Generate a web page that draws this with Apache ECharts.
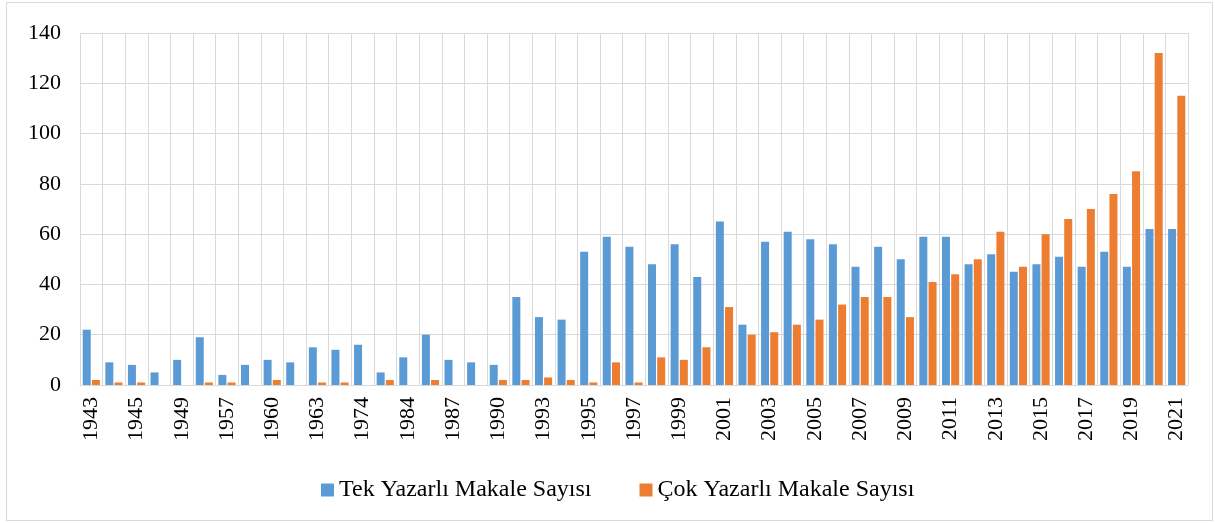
<!DOCTYPE html>
<html>
<head>
<meta charset="UTF-8">
<title>Makale Sayısı</title>
<script type="text/javascript" src="https://cdn.jsdelivr.net/npm/echarts@6/dist/echarts.min.js"></script>
<style type="text/css">
html, body { margin: 0; padding: 0; background: #fff; }
#chart { position: absolute; left: 0; top: 0; width: 1215px; height: 523px; }
#frame { position: absolute; left: 6px; top: 2px; width: 1205px; height: 517px; border: 1px solid #d9d9d9; pointer-events: none; }
</style>
</head>
<body>
	<div id="chart"></div>
	<div id="frame"></div>
<script type="text/javascript">
	var years = ['1943', '1944', '1945', '1946', '1949', '1950', '1957', '1958', '1960', '1961',
		'1963', '1964', '1974', '1975', '1984', '1985', '1987', '1988', '1990', '1991',
		'1993', '1994', '1995', '1996', '1997', '1998', '1999', '2000', '2001', '2002',
		'2003', '2004', '2005', '2006', '2007', '2008', '2009', '2010', '2011', '2012',
		'2013', '2014', '2015', '2016', '2017', '2018', '2019', '2020', '2021'];
	var tekYazarli = [22, 9, 8, 5, 10, 19, 4, 8, 10, 9,
		15, 14, 16, 5, 11, 20, 10, 9, 8, 35,
		27, 26, 53, 59, 55, 48, 56, 43, 65, 24,
		57, 61, 58, 56, 47, 55, 50, 59, 59, 48,
		52, 45, 48, 51, 47, 53, 47, 62, 62];
	var cokYazarli = [2, 1, 1, 0, 0, 1, 1, 0, 2, 0,
		1, 1, 0, 2, 0, 2, 0, 0, 2, 2,
		3, 2, 1, 9, 1, 11, 10, 15, 31, 20,
		21, 24, 26, 32, 35, 35, 27, 41, 44, 50,
		61, 47, 60, 66, 70, 76, 85, 132, 115];
	var yTicks = [0, 20, 40, 60, 80, 100, 120, 140];

	var myChart = echarts.init(document.getElementById("chart"));
	var serif = "'Liberation Serif', 'DejaVu Serif', serif";
	var option = {
		animation : false,
		textStyle : { fontFamily : serif },
		grid : { left : 80, right : 27, top : 33, bottom : 138, containLabel : false },
		legend : {
			top : 473,
			left : 316,
			itemWidth : 13,
			itemHeight : 13,
			itemGap : 48,
			icon : 'rect',
			textStyle : { fontFamily : serif, fontSize : 24, color : '#000' },
			data : ['Tek Yazarlı Makale Sayısı', 'Çok Yazarlı Makale Sayısı']
		},
		xAxis : {
			type : 'category',
			data : years,
			axisLine : { lineStyle : { color : '#d9d9d9', width : 1 } },
			axisTick : { show : false },
			splitLine : { show : true, interval : 0, lineStyle : { color : '#d9d9d9', width : 1 } },
			axisLabel : {
				interval : 1,
				rotate : 90,
				fontFamily : serif,
				fontSize : 22,
				color : '#000',
				margin : 12
			}
		},
		yAxis : {
			type : 'value',
			min : yTicks[0],
			max : yTicks[yTicks.length - 1],
			interval : 20,
			axisLine : { show : false },
			axisTick : { show : false },
			splitLine : { lineStyle : { color : '#d9d9d9', width : 1 } },
			axisLabel : { fontFamily : serif, fontSize : 22, color : '#000', margin : 19 }
		},
		series : [ {
			name : 'Tek Yazarlı Makale Sayısı',
			type : 'bar',
			data : tekYazarli,
			barWidth : 8,
			barGap : '15%',
			itemStyle : { color : '#5b9bd5' }
		}, {
			name : 'Çok Yazarlı Makale Sayısı',
			type : 'bar',
			data : cokYazarli,
			barWidth : 8,
			itemStyle : { color : '#ed7d31' }
		} ]
	};
	myChart.setOption(option);
</script>
</body>
</html>
